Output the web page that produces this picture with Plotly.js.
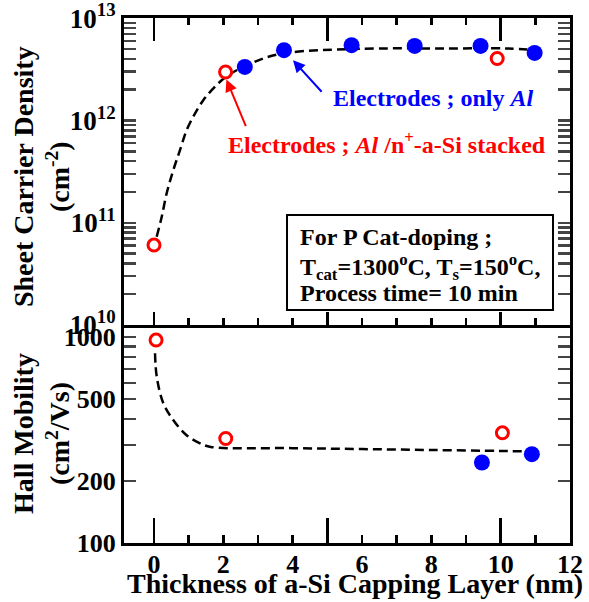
<!DOCTYPE html>
<html>
<head>
<meta charset="utf-8">
<script src="https://cdn.plot.ly/plotly-3.0.1.min.js"></script>
<style>html,body{margin:0;padding:0;background:#fff;}</style>
</head>
<body>
<div id="chart" style="width:589px;height:602px;"></div>
<script>
// ---- data ----
const densRedX = [0, 2.065, 9.9];
const densRedY = [6.05e10, 2.98e12, 4.04e12];
const densBlueX = [2.62, 3.75, 5.7, 7.52, 9.42, 10.98];
const densBlueY = [3.34e12, 4.87e12, 5.45e12, 5.36e12, 5.36e12, 4.58e12];
const densFitX = [0.078, 0.222, 0.366, 0.557, 0.75, 0.943, 1.183, 1.422, 1.664, 1.904, 2.143, 2.48, 3.15, 3.72, 4.4, 5.27, 6.51, 8.44, 10.16, 11.03];
const densFitY = [7.3e10, 1.14e11, 1.94e11, 3.27e11, 5.13e11, 8.05e11, 1.17e12, 1.58e12, 1.98e12, 2.39e12, 2.77e12, 3.22e12, 4.04e12, 4.52e12, 4.79e12, 4.94e12, 5.06e12, 5.06e12, 5.06e12, 4.87e12];

const mobRedX = [0.06, 2.07, 10.05];
const mobRedY = [968, 322, 343];
const mobBlueX = [9.46, 10.9];
const mobBlueY = [246, 270];
const mobFitX = [0.03, 0.08, 0.27, 0.56, 0.94, 1.33, 1.64, 4, 6, 8, 10, 11.07];
const mobFitY = [836, 643, 477, 395, 334, 305, 293, 289, 286, 283, 280, 278];

// ---- tick labels ----
const xLabelVals = [0, 2, 4, 6, 8, 10, 12];
const xLabelText = ['0', '2', '4', '6', '8', '10', '12'];
const xLongTicks = [0, 5, 10];
const densDecades = [10, 11, 12, 13];
const mobTickVals = [100,200,300,400,500,600,700,800,900,1000];
const mobTickText = ['100','200','','','500','','','','','1000'];

const densTickVals = [], densTickText = [];
densDecades.forEach((d, i) => {
  densTickVals.push(Math.pow(10, d)); densTickText.push('10<sup>' + d + '</sup>');
  if (i < densDecades.length - 1) {
    for (let m = 2; m <= 9; m++) { densTickVals.push(m * Math.pow(10, d)); densTickText.push(''); }
  }
});

const RED = '#ff0000', BLUE = '#0000ff';
const FONT = 'Liberation Serif, Times New Roman, serif';
const XR = [-0.865, 12];
const SPLIT = 0.4152;

const fitLine = {color: 'black', width: 2.5, dash: '9px,5px', shape: 'spline'};

const traces = [
  {x: densFitX, y: densFitY, xaxis: 'x', yaxis: 'y', mode: 'lines', line: fitLine, hoverinfo: 'skip'},
  {x: densBlueX, y: densBlueY, xaxis: 'x', yaxis: 'y', mode: 'markers',
   marker: {color: BLUE, size: 16, line: {width: 0}}},
  {x: densRedX, y: densRedY, xaxis: 'x', yaxis: 'y', mode: 'markers',
   marker: {color: 'white', size: 12, line: {color: RED, width: 3}}},
  {x: mobFitX, y: mobFitY, xaxis: 'x2', yaxis: 'y2', mode: 'lines', line: fitLine, hoverinfo: 'skip'},
  {x: mobBlueX, y: mobBlueY, xaxis: 'x2', yaxis: 'y2', mode: 'markers',
   marker: {color: BLUE, size: 16, line: {width: 0}}},
  {x: mobRedX, y: mobRedY, xaxis: 'x2', yaxis: 'y2', mode: 'markers',
   marker: {color: 'white', size: 12, line: {color: RED, width: 3}}},
  // empty traces so the overlay axes carrying the long ticks are drawn
  {x: [], y: [], xaxis: 'x3', yaxis: 'y2', mode: 'markers', hoverinfo: 'skip'},
  {x: [], y: [], xaxis: 'x4', yaxis: 'y', mode: 'markers', hoverinfo: 'skip'}
];

const longTickAxis = {range: XR, tickmode: 'array', tickvals: xLongTicks, ticks: 'inside', tickwidth: 2.5,
  tickcolor: 'black', showticklabels: false, showline: false, showgrid: false, zeroline: false};

const layout = {
  width: 589, height: 602,
  margin: {l: 124, r: 19, t: 18, b: 59},
  paper_bgcolor: 'white', plot_bgcolor: 'white',
  showlegend: false,
  font: {family: FONT, size: 26, color: 'black', weight: 'bold'},
  xaxis: {anchor: 'y', range: XR, tickmode: 'array', tickvals: xLongTicks, ticks: 'inside', ticklen: 13, tickwidth: 2.5,
    tickcolor: 'black', showticklabels: false, showline: true, linewidth: 3, linecolor: 'black', mirror: 'ticks',
    showgrid: false, zeroline: false,
    minor: {tickmode: 'linear', tick0: 0, dtick: 1, ticks: 'inside', ticklen: 7, tickwidth: 2.5, tickcolor: 'black', showgrid: false}},
  xaxis4: Object.assign({}, longTickAxis, {overlaying: 'x', anchor: 'y', side: 'top', ticklen: 23}),
  xaxis2: {anchor: 'y2', range: XR, tickmode: 'array', tickvals: xLabelVals, ticktext: xLabelText, ticks: 'inside', ticklen: 8,
    tickwidth: 2.5, tickcolor: 'black', showline: true, linewidth: 3, linecolor: 'black', mirror: false,
    showgrid: false, zeroline: false, ticklabelstandoff: -4,
    tickfont: {family: FONT, size: 26, weight: 'bold'},
    minor: {tickmode: 'linear', tick0: 0, dtick: 1, ticks: 'inside', ticklen: 8, tickwidth: 2.5, tickcolor: 'black', showgrid: false}},
  xaxis3: Object.assign({}, longTickAxis, {overlaying: 'x2', anchor: 'y2', side: 'bottom', ticklen: 25}),
  yaxis: {domain: [SPLIT, 1], anchor: 'x', type: 'log', range: [10, 13.002], tickvals: densTickVals, ticktext: densTickText,
    ticks: 'inside', ticklen: 12, tickwidth: 2.5, showline: true, linewidth: 3, linecolor: 'black', mirror: 'ticks',
    showgrid: false, zeroline: false, ticklabeloverflow: 'allow', tickfont: {family: FONT, size: 27, weight: 'bold'}},
  yaxis2: {domain: [0, SPLIT], anchor: 'x2', type: 'log', range: [2, 3.059], tickvals: mobTickVals, ticktext: mobTickText,
    ticks: 'inside', ticklen: 12, tickwidth: 2.5, showline: true, linewidth: 3, linecolor: 'black', mirror: 'ticks',
    showgrid: false, zeroline: false, ticklabeloverflow: 'allow', tickfont: {family: FONT, size: 26, weight: 'bold'}},
  shapes: [
    {type: 'rect', xref: 'paper', yref: 'paper', x0: 0.3655, x1: 0.9619, y0: 0.4438, y1: 0.6248,
     line: {color: 'black', width: 2}, fillcolor: 'white', layer: 'above'}
  ],
  annotations: [
    {xref: 'paper', yref: 'paper', x: 0.518, y: -0.0762, xanchor: 'center', yanchor: 'middle', showarrow: false,
     text: 'Thickness of a-Si Capping Layer (nm)', font: {family: FONT, size: 28, weight: 'bold'}},
    {xref: 'paper', yref: 'paper', x: -0.186, y: 0.697, xanchor: 'center', yanchor: 'middle', textangle: -90,
     showarrow: false, text: 'Sheet Carrier Density<br>(cm<sup>-2</sup>)', font: {family: FONT, size: 28, weight: 'bold'}},
    {xref: 'paper', yref: 'paper', x: -0.186, y: 0.2076, xanchor: 'center', yanchor: 'middle', textangle: -90,
     showarrow: false, text: 'Hall Mobility<br>(cm<sup>2</sup>/Vs)', font: {family: FONT, size: 28, weight: 'bold'}},
    {xref: 'paper', yref: 'paper', x: 0.693, y: 0.848, xanchor: 'center', yanchor: 'middle', showarrow: false,
     text: 'Electrodes ; only <i>Al</i>', font: {family: FONT, size: 24, color: BLUE, weight: 'bold'}},
    {xref: 'paper', yref: 'paper', x: 0.590, y: 0.761, xanchor: 'center', yanchor: 'middle', showarrow: false,
     text: 'Electrodes ; <i>Al</i> /n<sup>+</sup>-a-Si stacked', font: {family: FONT, size: 24, color: RED, weight: 'bold'}},
    {xref: 'x', yref: 'y', x: 4.01, y: 12.589, ax: 30, ay: 33, text: '', showarrow: true,
     arrowhead: 2, arrowsize: 1.2, arrowwidth: 2, arrowcolor: BLUE},
    {xref: 'x', yref: 'y', x: 2.09, y: 12.40, ax: 20, ay: 48, text: '', showarrow: true,
     arrowhead: 2, arrowsize: 1.2, arrowwidth: 2, arrowcolor: RED},
    {xref: 'paper', yref: 'paper', x: 0.390, y: 0.583, xanchor: 'left', yanchor: 'middle', showarrow: false,
     text: 'For P Cat-doping ;', font: {family: FONT, size: 24, weight: 'bold'}},
    {xref: 'paper', yref: 'paper', x: 0.390, y: 0.526, xanchor: 'left', yanchor: 'middle', showarrow: false,
     text: 'T<sub>cat</sub>=1300<sup>o</sup>C, T<sub>s</sub>=150<sup>o</sup>C,', font: {family: FONT, size: 24, weight: 'bold'}},
    {xref: 'paper', yref: 'paper', x: 0.390, y: 0.476, xanchor: 'left', yanchor: 'middle', showarrow: false,
     text: 'Process time= 10 min', font: {family: FONT, size: 24, weight: 'bold'}}
  ]
};

Plotly.newPlot('chart', traces, layout, {displayModeBar: false, staticPlot: true});
</script>
</body>
</html>
